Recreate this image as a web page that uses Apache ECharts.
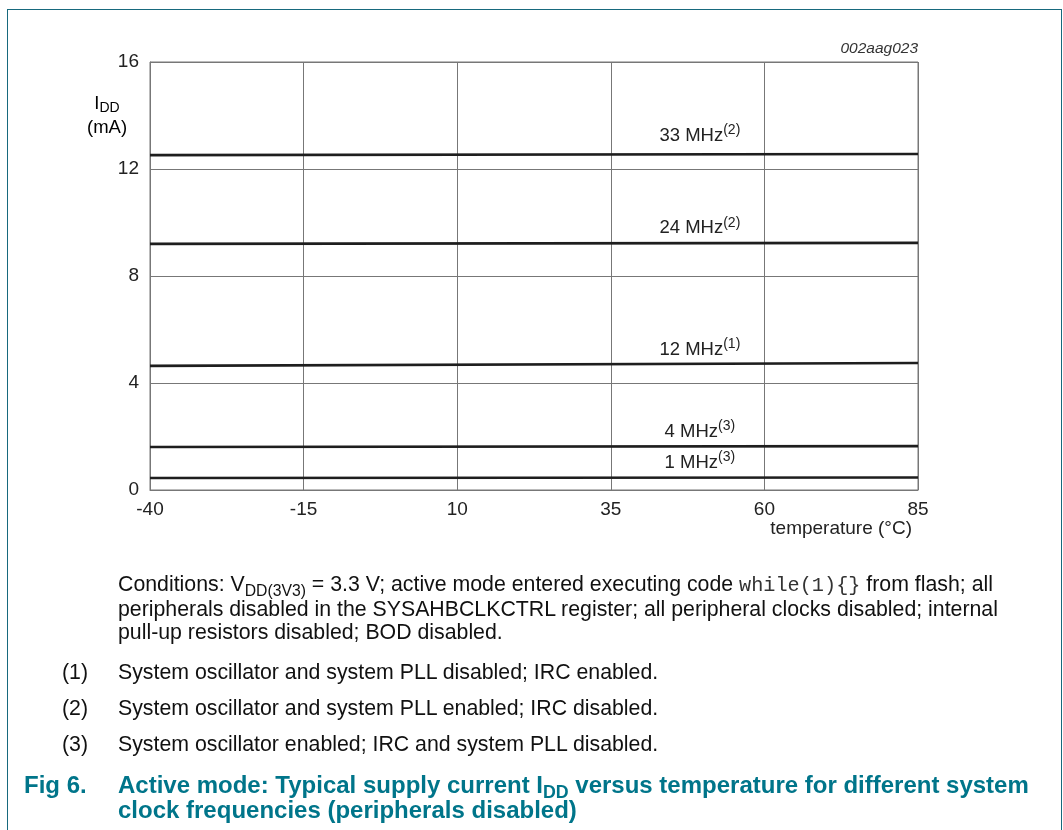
<!DOCTYPE html>
<html>
<head>
<meta charset="utf-8">
<script src="https://cdn.jsdelivr.net/npm/echarts@6/dist/echarts.min.js"></script>
<style>
  html, body { margin: 0; padding: 0; background: #fff; }
  #wrap { position: relative; width: 1063px; height: 830px; overflow: hidden; font-family: "Liberation Sans", Arial, sans-serif; color: #111; }
  #frame { position: absolute; left: 7px; top: 9px; width: 1055px; height: 900px; border: 1px solid #17697d; box-sizing: border-box; }
  #chart { position: absolute; left: 0; top: 0; width: 1063px; height: 830px; }
  .txt { position: absolute; font-size: 21.3px; line-height: 23.5px; white-space: nowrap; }
  sub { font-size: 0.74em; vertical-align: -0.3em; line-height: 0; }
  .mono { font-family: "Liberation Mono", "DejaVu Sans Mono", monospace; font-size: 0.95em; color: #333; }
  .teal { color: #00758a; font-weight: bold; font-size: 24px; line-height: 25px; }
</style>
</head>
<body>
<div id="wrap">
  <div id="frame"></div>
  <div id="chart"></div>
  <div class="txt" style="left:118px; top:573px;">Conditions: V<sub>DD(3V3)</sub> = 3.3 V; active mode entered executing code <span class="mono">while(1){}</span> from flash; all<br>peripherals disabled in the SYSAHBCLKCTRL register; all peripheral clocks disabled; internal<br>pull-up resistors disabled; BOD disabled.</div>
  <div class="txt" style="left:62px; top:661px;">(1)</div>
  <div class="txt" style="left:118px; top:661px;">System oscillator and system PLL disabled; IRC enabled.</div>
  <div class="txt" style="left:62px; top:697px;">(2)</div>
  <div class="txt" style="left:118px; top:697px;">System oscillator and system PLL enabled; IRC disabled.</div>
  <div class="txt" style="left:62px; top:733px;">(3)</div>
  <div class="txt" style="left:118px; top:733px;">System oscillator enabled; IRC and system PLL disabled.</div>
  <div class="txt teal" style="left:24px; top:772px;">Fig 6.</div>
  <div class="txt teal" style="left:118px; top:772px;">Active mode: Typical supply current I<sub>DD</sub> versus temperature for different system<br>clock frequencies (peripherals disabled)</div>
</div>
<script>
// ---- data ----
const temps = [-40, 85];
const xTicks = [-40, -15, 10, 35, 60, 85];
const yTicks = [0, 4, 8, 12, 16];
const names = ['33 MHz', '24 MHz', '12 MHz', '4 MHz', '1 MHz'];
const notes = ['(2)', '(2)', '(1)', '(3)', '(3)'];
const idd33 = [12.52, 12.56];
const idd24 = [9.20, 9.24];
const idd12 = [4.64, 4.75];
const idd4  = [1.61, 1.64];
const idd1  = [0.45, 0.47];
const seriesValues = [idd33, idd24, idd12, idd4, idd1];
const labelTemp = 49.5;

const chart = echarts.init(document.getElementById('chart'), null, { renderer: 'canvas' });
const font = '"Liberation Sans", Arial, sans-serif';

const series = seriesValues.map((vals, i) => ({
  type: 'line',
  name: names[i],
  data: temps.map((t, k) => [t, vals[k]]),
  symbol: 'none',
  lineStyle: { color: '#1e1e1e', width: 2.6 },
  silent: true,
  z: 5,
  markPoint: {
    symbol: 'circle',
    symbolSize: 1,
    itemStyle: { color: 'rgba(0,0,0,0)' },
    label: {
      show: true,
      position: 'top',
      distance: i === 0 ? 9 : 5,
      formatter: '{a|' + names[i] + '}{s|' + notes[i] + '}',
      rich: {
        a: { fontFamily: font, fontSize: 18.5, color: '#222', verticalAlign: 'bottom', lineHeight: 22 },
        s: { fontFamily: font, fontSize: 14, color: '#222', verticalAlign: 'top', lineHeight: 22 }
      }
    },
    data: [{ coord: [labelTemp, (vals[0] + vals[1]) / 2] }]
  }
}));

chart.setOption({
  animation: false,
  grid: { left: 150, top: 62, right: 145, bottom: 340, show: true, borderColor: '#777', borderWidth: 1 },
  xAxis: {
    type: 'value',
    min: xTicks[0], max: xTicks[xTicks.length - 1], interval: 25,
    axisLine: { show: true, onZero: false, lineStyle: { color: '#777' } },
    axisTick: { show: false },
    splitLine: { show: true, lineStyle: { color: '#777', width: 1 } },
    axisLabel: { color: '#222', fontFamily: font, fontSize: 19, margin: 10 }
  },
  yAxis: {
    type: 'value',
    min: yTicks[0], max: yTicks[yTicks.length - 1], interval: 4,
    axisLine: { show: true, onZero: false, lineStyle: { color: '#777' } },
    axisTick: { show: false },
    splitLine: { show: true, lineStyle: { color: '#777', width: 1 } },
    axisLabel: { color: '#222', fontFamily: font, fontSize: 19, margin: 11 }
  },
  graphic: [
    { type: 'text', right: 145, top: 41, style: { text: '002aag023', font: 'italic 15.5px ' + font, fill: '#333', textAlign: 'right' } },
    { type: 'text', left: 87, top: 94, style: {
        text: '{a|I}{s|DD}\n{a|(mA)}', textAlign: 'center',
        rich: {
          a: { fontFamily: font, fontSize: 18.5, color: '#222', lineHeight: 24 },
          s: { fontFamily: font, fontSize: 14, color: '#222', lineHeight: 24, verticalAlign: 'bottom' }
        }
    } },
    { type: 'text', right: 151, top: 519, style: { text: 'temperature (°C)', font: '19px ' + font, fill: '#222' } }
  ],
  series: series
});
</script>
</body>
</html>
